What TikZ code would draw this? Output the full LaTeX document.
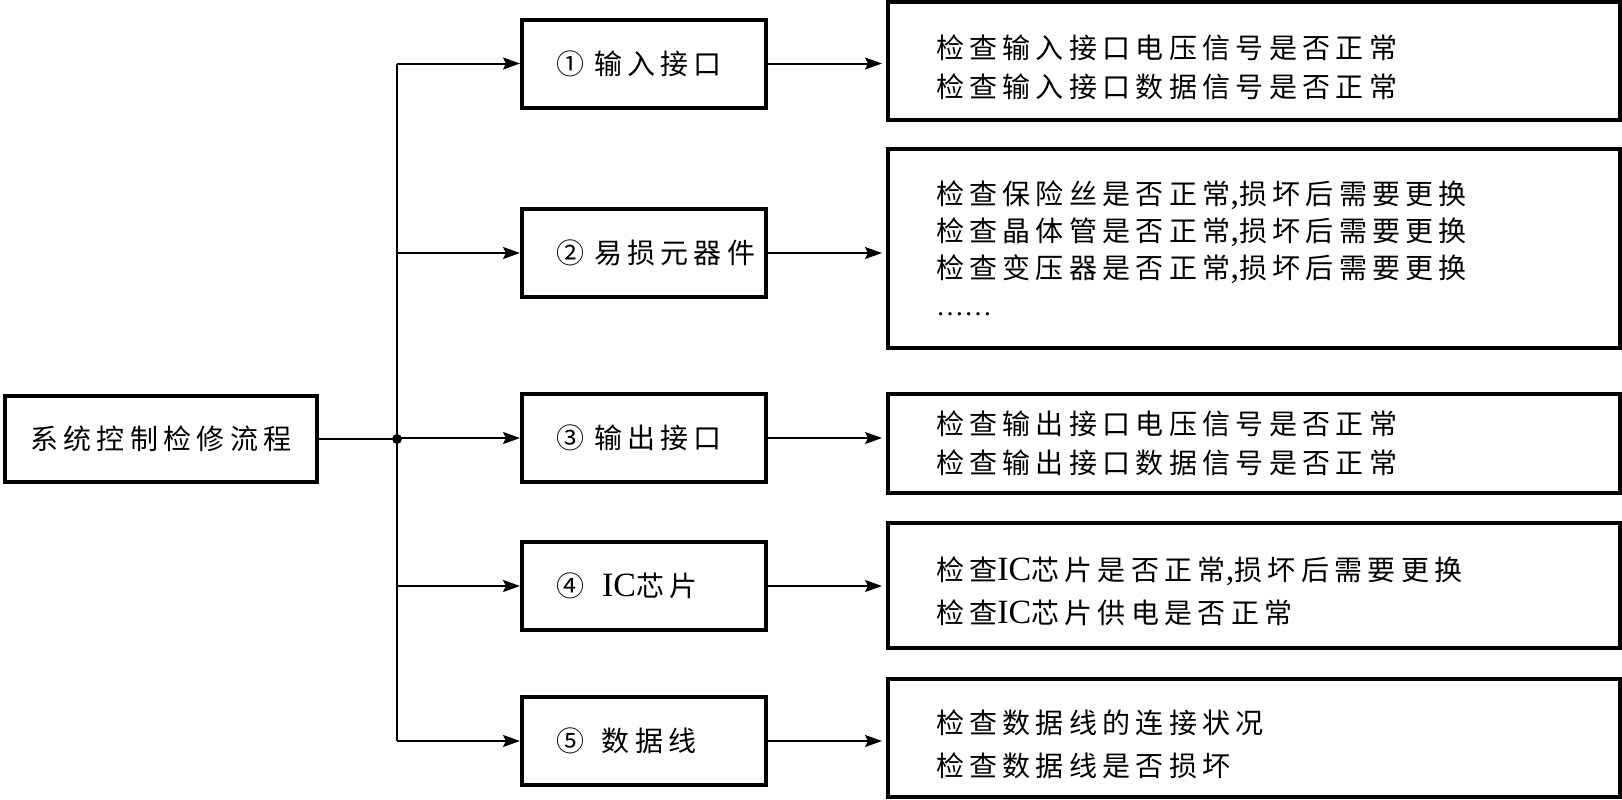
\documentclass[tikz,border=0pt]{standalone}
\usepackage{fontspec}
\setmainfont{Liberation Serif}
\newfontfamily\cjk[LetterSpace=19]{Noto Sans CJK SC}
\usetikzlibrary{arrows.meta}
\newcommand{\lat}[1]{{\rmfamily\fontsize{17pt}{17pt}\selectfont #1}}
\newcommand{\tdown}{\rule{0pt}{18pt}}

\begin{document}
\begin{tikzpicture}[x=0.5pt,y=-0.5pt,line width=1pt,>={Stealth[length=8.5pt,width=6pt,inset=1.5pt]},
  mainbox/.style={draw,line width=2pt,minimum width=156pt,minimum height=43pt,inner sep=0pt,
    font=\cjk\fontsize{14pt}{18pt}\selectfont},
  midbox/.style={draw,line width=2pt,minimum width=122pt,minimum height=44pt,text width=88pt,
    inner xsep=17pt,inner ysep=0pt,align=left,font=\cjk\fontsize{14pt}{18pt}\selectfont},
  rbox/.style={draw,line width=2pt,minimum width=366pt,text width=318pt,inner xsep=24pt,
    inner ysep=0pt,align=left,font=\cjk\fontsize{14pt}{#1}\selectfont},
  rbox/.default=19.5pt]
  \useasboundingbox (0,0) rectangle (1622,799);
  % 主流程
  \node[mainbox] (main) at (161,439) {系统控制检修流程};
  \coordinate (j) at (397,439);
  % 检修项目
  \node[midbox] (b1) at (644,63.5) {\mbox{①\hspace{5pt}输入接口}};
  \node[midbox] (b2) at (644,253) {\mbox{②\hspace{5pt}易损元器件}};
  \node[midbox] (b3) at (644,438) {\mbox{③\hspace{5pt}输出接口}};
  \node[midbox] (b4) at (644,586) {\mbox{④\hspace{9pt}\lat{IC}芯片}};
  \node[midbox] (b5) at (644,741) {\mbox{⑤\hspace{9pt}数据线}};
  % 检查内容
  \node[rbox,minimum height=59pt] (r1) at (1254,61) {\tdown 检查输入接口电压信号是否正常\\检查输入接口数据信号是否正常};
  \node[rbox=18.5pt,minimum height=99.5pt] (r2) at (1254,248.5) {检查保险丝是否正常\lat{,}损坏后需要更换\\检查晶体管是否正常\lat{,}损坏后需要更换\\检查变压器是否正常\lat{,}损坏后需要更换\\{\rmfamily\fontsize{14pt}{18pt}\selectfont ……}};
  \node[rbox,minimum height=49.5pt] (r3) at (1254,443.5) {检查输出接口电压信号是否正常\\检查输出接口数据信号是否正常};
  \node[rbox=21.5pt,minimum height=62.5pt] (r4) at (1254,585.5) {\tdown 检查\lat{IC}芯片是否正常\lat{,}损坏后需要更换\\检查\lat{IC}芯片供电是否正常};
  \node[rbox=21.5pt,minimum height=59pt] (r5) at (1254,738) {\tdown 检查数据线的连接状况\\检查数据线是否损坏};
  % 连线
  \draw (main.east) -- (j);
  \fill (j) circle (2.5pt);
  \draw (j |- b1.west) -- (j |- b5.west);
  \foreach \i in {1,...,5}{
    \draw[->] (j |- b\i.west) -- (b\i.west);
    \draw[->,shorten >=2pt] (b\i.east) -- (b\i.east -| r\i.west);
  }
\end{tikzpicture}
\end{document}
